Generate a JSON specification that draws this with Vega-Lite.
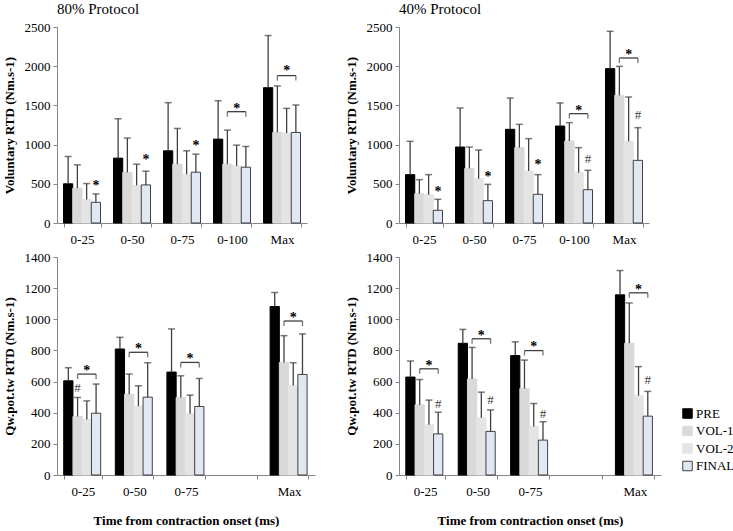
{
"$schema":"https://vega.github.io/schema/vega-lite/v6.json",
"padding":{"left":3,"top":2,"right":0,"bottom":0},
"datasets":{
"bars":[
{"p":"TL","t":"0-25","c":"PRE","m":500,"e":848},{"p":"TL","t":"0-25","c":"VOL-1","m":443,"e":742},{"p":"TL","t":"0-25","c":"VOL-2","m":300,"e":503},{"p":"TL","t":"0-25","c":"FINAL","m":264,"e":371},
{"p":"TL","t":"0-50","c":"PRE","m":827,"e":1330},{"p":"TL","t":"0-50","c":"VOL-1","m":644,"e":1083},{"p":"TL","t":"0-50","c":"VOL-2","m":480,"e":750},{"p":"TL","t":"0-50","c":"FINAL","m":486,"e":661},
{"p":"TL","t":"0-75","c":"PRE","m":921,"e":1535},{"p":"TL","t":"0-75","c":"VOL-1","m":750,"e":1206},{"p":"TL","t":"0-75","c":"VOL-2","m":622,"e":921},{"p":"TL","t":"0-75","c":"FINAL","m":648,"e":878},
{"p":"TL","t":"0-100","c":"PRE","m":1070,"e":1560},{"p":"TL","t":"0-100","c":"VOL-1","m":750,"e":1185},{"p":"TL","t":"0-100","c":"VOL-2","m":729,"e":993},{"p":"TL","t":"0-100","c":"FINAL","m":712,"e":976},
{"p":"TL","t":"Max","c":"PRE","m":1726,"e":2391},{"p":"TL","t":"Max","c":"VOL-1","m":1155,"e":1748},{"p":"TL","t":"Max","c":"VOL-2","m":1147,"e":1462},{"p":"TL","t":"Max","c":"FINAL","m":1155,"e":1505},
{"p":"TR","t":"0-25","c":"PRE","m":617,"e":1042},{"p":"TR","t":"0-25","c":"VOL-1","m":374,"e":553},{"p":"TR","t":"0-25","c":"VOL-2","m":360,"e":617},{"p":"TR","t":"0-25","c":"FINAL","m":162,"e":302},
{"p":"TR","t":"0-50","c":"PRE","m":969,"e":1467},{"p":"TR","t":"0-50","c":"VOL-1","m":697,"e":969},{"p":"TR","t":"0-50","c":"VOL-2","m":565,"e":931},{"p":"TR","t":"0-50","c":"FINAL","m":285,"e":493},
{"p":"TR","t":"0-75","c":"PRE","m":1195,"e":1594},{"p":"TR","t":"0-75","c":"VOL-1","m":961,"e":1258},{"p":"TR","t":"0-75","c":"VOL-2","m":663,"e":1076},{"p":"TR","t":"0-75","c":"FINAL","m":366,"e":617},
{"p":"TR","t":"0-100","c":"PRE","m":1237,"e":1531},{"p":"TR","t":"0-100","c":"VOL-1","m":1046,"e":1280},{"p":"TR","t":"0-100","c":"VOL-2","m":642,"e":961},{"p":"TR","t":"0-100","c":"FINAL","m":425,"e":672},
{"p":"TR","t":"Max","c":"PRE","m":1969,"e":2445},{"p":"TR","t":"Max","c":"VOL-1","m":1628,"e":1998},{"p":"TR","t":"Max","c":"VOL-2","m":1042,"e":1607},{"p":"TR","t":"Max","c":"FINAL","m":799,"e":1216},
{"p":"BL","t":"0-25","c":"PRE","m":605,"e":689},{"p":"BL","t":"0-25","c":"VOL-1","m":376,"e":498},{"p":"BL","t":"0-25","c":"VOL-2","m":356,"e":476},{"p":"BL","t":"0-25","c":"FINAL","m":397,"e":584},
{"p":"BL","t":"0-50","c":"PRE","m":809,"e":884},{"p":"BL","t":"0-50","c":"VOL-1","m":519,"e":648},{"p":"BL","t":"0-50","c":"VOL-2","m":442,"e":573},{"p":"BL","t":"0-50","c":"FINAL","m":500,"e":721},
{"p":"BL","t":"0-75","c":"PRE","m":661,"e":938},{"p":"BL","t":"0-75","c":"VOL-1","m":498,"e":637},{"p":"BL","t":"0-75","c":"VOL-2","m":393,"e":513},{"p":"BL","t":"0-75","c":"FINAL","m":440,"e":620},
{"p":"BL","t":"Max","c":"PRE","m":1082,"e":1172},{"p":"BL","t":"Max","c":"VOL-1","m":723,"e":895},{"p":"BL","t":"Max","c":"VOL-2","m":575,"e":721},{"p":"BL","t":"Max","c":"FINAL","m":646,"e":906},
{"p":"BR","t":"0-25","c":"PRE","m":629,"e":732},{"p":"BR","t":"0-25","c":"VOL-1","m":450,"e":613},{"p":"BR","t":"0-25","c":"VOL-2","m":322,"e":481},{"p":"BR","t":"0-25","c":"FINAL","m":264,"e":403},
{"p":"BR","t":"0-50","c":"PRE","m":846,"e":935},{"p":"BR","t":"0-50","c":"VOL-1","m":617,"e":819},{"p":"BR","t":"0-50","c":"VOL-2","m":367,"e":532},{"p":"BR","t":"0-50","c":"FINAL","m":280,"e":418},
{"p":"BR","t":"0-75","c":"PRE","m":767,"e":855},{"p":"BR","t":"0-75","c":"VOL-1","m":555,"e":738},{"p":"BR","t":"0-75","c":"VOL-2","m":311,"e":459},{"p":"BR","t":"0-75","c":"FINAL","m":224,"e":342},
{"p":"BR","t":"Max","c":"PRE","m":1157,"e":1313},{"p":"BR","t":"Max","c":"VOL-1","m":846,"e":1105},{"p":"BR","t":"Max","c":"VOL-2","m":510,"e":696},{"p":"BR","t":"Max","c":"FINAL","m":378,"e":537}
],
"sig":[
{"p":"TL","t":"0-25","c":"FINAL","y":507,"s":"*"},{"p":"TL","t":"0-50","c":"FINAL","y":840,"s":"*"},{"p":"TL","t":"0-75","c":"FINAL","y":1019,"s":"*"},{"p":"TL","t":"0-100","c":"VOL-2","y":1488,"s":"*"},{"p":"TL","t":"Max","c":"VOL-2","y":1974,"s":"*"},
{"p":"TR","t":"0-25","c":"FINAL","y":429,"s":"*"},{"p":"TR","t":"0-50","c":"FINAL","y":621,"s":"*"},{"p":"TR","t":"0-75","c":"FINAL","y":778,"s":"*"},{"p":"TR","t":"0-100","c":"VOL-2","y":1471,"s":"*"},{"p":"TR","t":"0-100","c":"FINAL","y":812,"s":"#"},{"p":"TR","t":"Max","c":"VOL-2","y":2181,"s":"*"},{"p":"TR","t":"Max","c":"FINAL","y":1373,"s":"#"},
{"p":"BL","t":"0-25","c":"VOL-1","y":560,"s":"#"},{"p":"BL","t":"0-25","c":"VOL-2","y":685,"s":"*"},{"p":"BL","t":"0-50","c":"VOL-2","y":826,"s":"*"},{"p":"BL","t":"0-75","c":"VOL-2","y":762,"s":"*"},{"p":"BL","t":"Max","c":"VOL-2","y":1026,"s":"*"},
{"p":"BR","t":"0-25","c":"VOL-2","y":718,"s":"*"},{"p":"BR","t":"0-25","c":"FINAL","y":454,"s":"#"},{"p":"BR","t":"0-50","c":"VOL-2","y":915,"s":"*"},{"p":"BR","t":"0-50","c":"FINAL","y":479,"s":"#"},{"p":"BR","t":"0-75","c":"VOL-2","y":839,"s":"*"},{"p":"BR","t":"0-75","c":"FINAL","y":394,"s":"#"},{"p":"BR","t":"Max","c":"VOL-2","y":1210,"s":"*"},{"p":"BR","t":"Max","c":"FINAL","y":613,"s":"#"}
],
"br":[
{"p":"TL","t":"0-100","c":"VOL-1","y":1420},{"p":"TL","t":"0-100","c":"FINAL","y":1420},{"p":"TL","t":"Max","c":"VOL-1","y":1880},{"p":"TL","t":"Max","c":"FINAL","y":1880},
{"p":"TR","t":"0-100","c":"VOL-1","y":1395},{"p":"TR","t":"0-100","c":"FINAL","y":1395},{"p":"TR","t":"Max","c":"VOL-1","y":2105},{"p":"TR","t":"Max","c":"FINAL","y":2105},
{"p":"BL","t":"0-25","c":"VOL-1","y":648},{"p":"BL","t":"0-25","c":"FINAL","y":648},{"p":"BL","t":"0-50","c":"VOL-1","y":788},{"p":"BL","t":"0-50","c":"FINAL","y":788},{"p":"BL","t":"0-75","c":"VOL-1","y":723},{"p":"BL","t":"0-75","c":"FINAL","y":723},{"p":"BL","t":"Max","c":"VOL-1","y":989},{"p":"BL","t":"Max","c":"FINAL","y":989},
{"p":"BR","t":"0-25","c":"VOL-1","y":682},{"p":"BR","t":"0-25","c":"FINAL","y":682},{"p":"BR","t":"0-50","c":"VOL-1","y":875},{"p":"BR","t":"0-50","c":"FINAL","y":875},{"p":"BR","t":"0-75","c":"VOL-1","y":799},{"p":"BR","t":"0-75","c":"FINAL","y":799},{"p":"BR","t":"Max","c":"VOL-1","y":1170},{"p":"BR","t":"Max","c":"FINAL","y":1170}
]
},
"resolve":{"scale":{"fill":"independent","stroke":"independent"}},
"spacing":5,
"vconcat":[
{"hconcat":[
{"width":250,"height":196,"title":{"text":"80% Protocol","offset":4},
"encoding":{
"x":{"field":"t","type":"nominal","title":null,"scale":{"domain":["0-25","0-50","0-75","0-100","Max"],"paddingInner":0.26,"paddingOuter":0.13}},
"xOffset":{"field":"c","type":"nominal","scale":{"domain":["PRE","VOL-1","VOL-2","FINAL"],"paddingInner":0,"paddingOuter":0}},
"y":{"type":"quantitative","title":"Voluntary  RTD (Nm.s-1)","scale":{"domain":[0,2500],"nice":false},"axis":{"values":[0,500,1000,1500,2000,2500],"labelOverlap":false,"format":"d"}}},
"layer":[
{"data":{"name":"bars"},"transform":[{"filter":"datum.p=='TL'"}],"mark":{"type":"bar","strokeWidth":1},
"encoding":{"y":{"field":"m"},
"fill":{"field":"c","type":"nominal","legend":null,"scale":{"domain":["PRE","VOL-1","VOL-2","FINAL"],"range":["#000000","#d9d9d9","#e4e4e4","#e0e8f3"]}},
"stroke":{"field":"c","type":"nominal","legend":null,"scale":{"domain":["PRE","VOL-1","VOL-2","FINAL"],"range":["#000000","#d9d9d9","#e4e4e4","#404040"]}}}},
{"data":{"name":"bars"},"transform":[{"filter":"datum.p=='TL'"}],"mark":{"type":"rule","color":"#404040","strokeWidth":1.3},
"encoding":{"y":{"field":"m"},"y2":{"field":"e"}}},
{"data":{"name":"bars"},"transform":[{"filter":"datum.p=='TL'"}],"mark":{"type":"tick","orient":"horizontal","color":"#404040","thickness":1.5,"size":7},
"encoding":{"y":{"field":"e"}}},
{"data":{"name":"br"},"transform":[{"filter":"datum.p=='TL'"}],"mark":{"type":"line","color":"#404040","strokeWidth":1.3},
"encoding":{"y":{"field":"y"},"detail":{"field":"t"}}},
{"data":{"name":"br"},"transform":[{"filter":"datum.p=='TL'"}],"mark":{"type":"tick","orient":"vertical","color":"#404040","thickness":1.3,"size":5,"yOffset":2.5},
"encoding":{"y":{"field":"y"}}},
{"data":{"name":"sig"},"transform":[{"filter":"datum.p=='TL' && datum.s=='*'"}],"mark":{"type":"text","fontSize":14,"fontWeight":"bold","dy":7,"baseline":"alphabetic","color":"#000000"},
"encoding":{"y":{"field":"y"},"text":{"field":"s"}}}
]},
{"width":250,"height":196,"title":{"text":"40% Protocol","offset":4},
"encoding":{
"x":{"field":"t","type":"nominal","title":null,"scale":{"domain":["0-25","0-50","0-75","0-100","Max"],"paddingInner":0.26,"paddingOuter":0.13}},
"xOffset":{"field":"c","type":"nominal","scale":{"domain":["PRE","VOL-1","VOL-2","FINAL"],"paddingInner":0,"paddingOuter":0}},
"y":{"type":"quantitative","title":"Voluntary  RTD (Nm.s-1)","scale":{"domain":[0,2500],"nice":false},"axis":{"values":[0,500,1000,1500,2000,2500],"labelOverlap":false,"format":"d"}}},
"layer":[
{"data":{"name":"bars"},"transform":[{"filter":"datum.p=='TR'"}],"mark":{"type":"bar","strokeWidth":1},
"encoding":{"y":{"field":"m"},
"fill":{"field":"c","type":"nominal","legend":null,"scale":{"domain":["PRE","VOL-1","VOL-2","FINAL"],"range":["#000000","#d9d9d9","#e4e4e4","#e0e8f3"]}},
"stroke":{"field":"c","type":"nominal","legend":null,"scale":{"domain":["PRE","VOL-1","VOL-2","FINAL"],"range":["#000000","#d9d9d9","#e4e4e4","#404040"]}}}},
{"data":{"name":"bars"},"transform":[{"filter":"datum.p=='TR'"}],"mark":{"type":"rule","color":"#404040","strokeWidth":1.3},
"encoding":{"y":{"field":"m"},"y2":{"field":"e"}}},
{"data":{"name":"bars"},"transform":[{"filter":"datum.p=='TR'"}],"mark":{"type":"tick","orient":"horizontal","color":"#404040","thickness":1.5,"size":7},
"encoding":{"y":{"field":"e"}}},
{"data":{"name":"br"},"transform":[{"filter":"datum.p=='TR'"}],"mark":{"type":"line","color":"#404040","strokeWidth":1.3},
"encoding":{"y":{"field":"y"},"detail":{"field":"t"}}},
{"data":{"name":"br"},"transform":[{"filter":"datum.p=='TR'"}],"mark":{"type":"tick","orient":"vertical","color":"#404040","thickness":1.3,"size":5,"yOffset":2.5},
"encoding":{"y":{"field":"y"}}},
{"data":{"name":"sig"},"transform":[{"filter":"datum.p=='TR' && datum.s=='*'"}],"mark":{"type":"text","fontSize":14,"fontWeight":"bold","dy":7,"baseline":"alphabetic","color":"#000000"},
"encoding":{"y":{"field":"y"},"text":{"field":"s"}}},
{"data":{"name":"sig"},"transform":[{"filter":"datum.p=='TR' && datum.s=='#'"}],"mark":{"type":"text","fontSize":13,"dy":4,"baseline":"alphabetic","color":"#404040"},
"encoding":{"y":{"field":"y"},"text":{"field":"s"}}}
]}
],"spacing":38,"resolve":{"scale":{"fill":"independent","stroke":"independent"}}},
{"hconcat":[
{"width":258,"height":218,
"encoding":{
"x":{"field":"t","type":"nominal","title":"Time from  contraction  onset (ms)","scale":{"domain":["0-25","0-50","0-75","0-100","Max"],"paddingInner":0.26,"paddingOuter":0.13},"axis":{"labelExpr":"datum.value=='0-100'?'':datum.value"}},
"xOffset":{"field":"c","type":"nominal","scale":{"domain":["PRE","VOL-1","VOL-2","FINAL"],"paddingInner":0,"paddingOuter":0}},
"y":{"type":"quantitative","title":"Qw.pot.tw  RTD (Nm.s-1)","scale":{"domain":[0,1400],"nice":false},"axis":{"values":[0,200,400,600,800,1000,1200,1400],"labelOverlap":false,"format":"d"}}},
"layer":[
{"data":{"name":"bars"},"transform":[{"filter":"datum.p=='BL'"}],"mark":{"type":"bar","strokeWidth":1},
"encoding":{"y":{"field":"m"},
"fill":{"field":"c","type":"nominal","legend":null,"scale":{"domain":["PRE","VOL-1","VOL-2","FINAL"],"range":["#000000","#d9d9d9","#e4e4e4","#e0e8f3"]}},
"stroke":{"field":"c","type":"nominal","legend":null,"scale":{"domain":["PRE","VOL-1","VOL-2","FINAL"],"range":["#000000","#d9d9d9","#e4e4e4","#404040"]}}}},
{"data":{"name":"bars"},"transform":[{"filter":"datum.p=='BL'"}],"mark":{"type":"rule","color":"#404040","strokeWidth":1.3},
"encoding":{"y":{"field":"m"},"y2":{"field":"e"}}},
{"data":{"name":"bars"},"transform":[{"filter":"datum.p=='BL'"}],"mark":{"type":"tick","orient":"horizontal","color":"#404040","thickness":1.5,"size":7},
"encoding":{"y":{"field":"e"}}},
{"data":{"name":"br"},"transform":[{"filter":"datum.p=='BL'"}],"mark":{"type":"line","color":"#404040","strokeWidth":1.3},
"encoding":{"y":{"field":"y"},"detail":{"field":"t"}}},
{"data":{"name":"br"},"transform":[{"filter":"datum.p=='BL'"}],"mark":{"type":"tick","orient":"vertical","color":"#404040","thickness":1.3,"size":5,"yOffset":2.5},
"encoding":{"y":{"field":"y"}}},
{"data":{"name":"sig"},"transform":[{"filter":"datum.p=='BL' && datum.s=='*'"}],"mark":{"type":"text","fontSize":14,"fontWeight":"bold","dy":7,"baseline":"alphabetic","color":"#000000"},
"encoding":{"y":{"field":"y"},"text":{"field":"s"}}},
{"data":{"name":"sig"},"transform":[{"filter":"datum.p=='BL' && datum.s=='#'"}],"mark":{"type":"text","fontSize":13,"dy":4,"baseline":"alphabetic","color":"#404040"},
"encoding":{"y":{"field":"y"},"text":{"field":"s"}}}
]},
{"width":262,"height":218,
"encoding":{
"x":{"field":"t","type":"nominal","title":"Time from  contraction  onset (ms)","scale":{"domain":["0-25","0-50","0-75","0-100","Max"],"paddingInner":0.26,"paddingOuter":0.13},"axis":{"labelExpr":"datum.value=='0-100'?'':datum.value"}},
"xOffset":{"field":"c","type":"nominal","scale":{"domain":["PRE","VOL-1","VOL-2","FINAL"],"paddingInner":0,"paddingOuter":0}},
"y":{"type":"quantitative","title":"Qw.pot.tw  RTD (Nm.s-1)","scale":{"domain":[0,1400],"nice":false},"axis":{"values":[0,200,400,600,800,1000,1200,1400],"labelOverlap":false,"format":"d"}}},
"layer":[
{"data":{"name":"bars"},"transform":[{"filter":"datum.p=='BR'"}],"mark":{"type":"bar","strokeWidth":1},
"encoding":{"y":{"field":"m"},
"fill":{"field":"c","type":"nominal","scale":{"domain":["PRE","VOL-1","VOL-2","FINAL"],"range":["#000000","#d9d9d9","#e4e4e4","#e0e8f3"]},
"legend":{"orient":"none","legendX":282,"legendY":150,"title":null,"symbolType":"square","symbolSize":90,"symbolStrokeWidth":1,"labelFont":"Liberation Serif","labelFontSize":13,"labelColor":"#000000","rowPadding":2.5,"labelOffset":2}},
"stroke":{"field":"c","type":"nominal","scale":{"domain":["PRE","VOL-1","VOL-2","FINAL"],"range":["#000000","#d9d9d9","#e4e4e4","#404040"]},
"legend":{"orient":"none","legendX":282,"legendY":150,"title":null,"symbolType":"square","symbolSize":90,"symbolStrokeWidth":1,"labelFont":"Liberation Serif","labelFontSize":13,"labelColor":"#000000","rowPadding":2.5,"labelOffset":2}}}},
{"data":{"name":"bars"},"transform":[{"filter":"datum.p=='BR'"}],"mark":{"type":"rule","color":"#404040","strokeWidth":1.3},
"encoding":{"y":{"field":"m"},"y2":{"field":"e"}}},
{"data":{"name":"bars"},"transform":[{"filter":"datum.p=='BR'"}],"mark":{"type":"tick","orient":"horizontal","color":"#404040","thickness":1.5,"size":7},
"encoding":{"y":{"field":"e"}}},
{"data":{"name":"br"},"transform":[{"filter":"datum.p=='BR'"}],"mark":{"type":"line","color":"#404040","strokeWidth":1.3},
"encoding":{"y":{"field":"y"},"detail":{"field":"t"}}},
{"data":{"name":"br"},"transform":[{"filter":"datum.p=='BR'"}],"mark":{"type":"tick","orient":"vertical","color":"#404040","thickness":1.3,"size":5,"yOffset":2.5},
"encoding":{"y":{"field":"y"}}},
{"data":{"name":"sig"},"transform":[{"filter":"datum.p=='BR' && datum.s=='*'"}],"mark":{"type":"text","fontSize":14,"fontWeight":"bold","dy":7,"baseline":"alphabetic","color":"#000000"},
"encoding":{"y":{"field":"y"},"text":{"field":"s"}}},
{"data":{"name":"sig"},"transform":[{"filter":"datum.p=='BR' && datum.s=='#'"}],"mark":{"type":"text","fontSize":13,"dy":4,"baseline":"alphabetic","color":"#404040"},
"encoding":{"y":{"field":"y"},"text":{"field":"s"}}}
]}
],"spacing":30,"resolve":{"scale":{"fill":"independent","stroke":"independent"}}}
],
"config":{
"view":{"stroke":null},
"font":"Liberation Serif",
"axis":{"labelFont":"Liberation Serif","labelFontSize":13,"labelColor":"#000000","titleFont":"Liberation Serif","titleFontSize":13,"titleFontWeight":"bold","titleColor":"#000000","domainColor":"#868686","tickColor":"#868686","tickSize":4,"grid":false,"labelOverlap":false},
"axisX":{"labelAngle":0,"tickBand":"extent","labelPadding":6,"titlePadding":16},
"axisY":{"labelPadding":3,"titlePadding":8,"format":"d"},
"title":{"font":"Liberation Serif","fontSize":15,"fontWeight":"normal","anchor":"start","frame":"group","color":"#000000"},
"text":{"font":"Liberation Serif"}
}
}
